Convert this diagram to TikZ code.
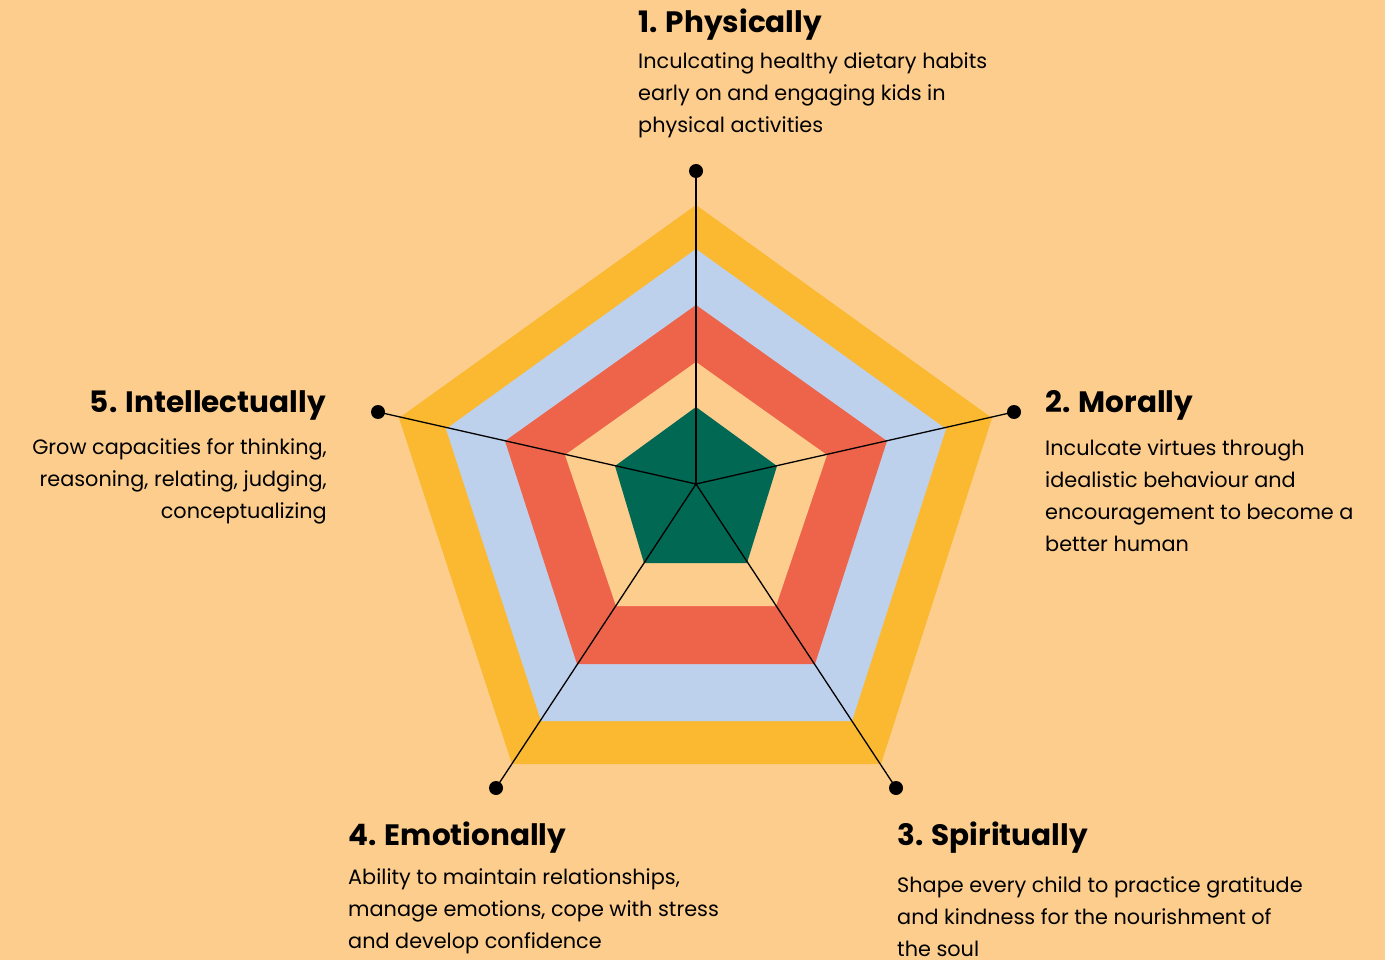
\documentclass[tikz,border=0pt]{standalone}
\usepackage{fontspec}
\setmainfont{Poppins}
\definecolor{bgpeach}{HTML}{FDCD8D}
\definecolor{ringyellow}{HTML}{FAB931}
\definecolor{ringblue}{HTML}{BED1EC}
\definecolor{ringred}{HTML}{EE644A}
\definecolor{ringgreen}{HTML}{006853}
\begin{document}
\begin{tikzpicture}[x=1pt,y=-1pt,
  titletext/.style={inner sep=0pt,font=\fontsize{29.5}{36}\selectfont\bfseries},
  bodytext/.style={inner sep=0pt,font=\fontsize{20.8}{32}\selectfont},
  spoke/.style={line width=1.3pt,black},
  dotnode/.style={circle,fill=black,inner sep=0pt,minimum size=14pt}]
\fill[bgpeach] (0,0) rectangle (1385,960);
\useasboundingbox (0,0) rectangle (1385,960);
% rings
\fill[ringyellow] (696,205) -- (992,418) -- (881,764) -- (512,764) -- (399,418) -- cycle;
\fill[ringblue] (696,249) -- (946,429) -- (852,721) -- (541,721) -- (446,429) -- cycle;
\fill[ringred] (696,305) -- (887,441) -- (815,664) -- (577,664) -- (505,441) -- cycle;
\fill[bgpeach] (696,362) -- (827,455) -- (776,606) -- (616,606) -- (565,455) -- cycle;
\fill[ringgreen] (696,407) -- (777,466) -- (747,563) -- (644,563) -- (615,466) -- cycle;
% spokes
\coordinate (c) at (696,484);
\node[dotnode] (d1) at (696,171) {};
\node[dotnode] (d2) at (1014,412) {};
\node[dotnode] (d3) at (896,788) {};
\node[dotnode] (d4) at (496,788) {};
\node[dotnode] (d5) at (378,412) {};
\foreach \d in {d1,d2,d3,d4,d5} \draw[spoke] (c) -- (\d.center);
% texts
\node[titletext,anchor=base west] (t1) at (638,33) {1. Physically};
\node[bodytext,anchor=north west,align=left] (b1) at (638,48) {\rule{0pt}{20pt}Inculcating healthy dietary habits\\early on and engaging kids in\\physical activities};
\node[titletext,anchor=base west] (t2) at (1045,412) {2. Morally};
\node[bodytext,anchor=north west,align=left] (b2) at (1045,435) {\rule{0pt}{20pt}Inculcate virtues through\\idealistic behaviour and\\encouragement to become a\\better human};
\node[titletext,anchor=base west] (t3) at (897,845) {3. Spiritually};
\node[bodytext,anchor=north west,align=left] (b3) at (897,872) {\rule{0pt}{20pt}Shape every child to practice gratitude\\and kindness for the nourishment of\\the soul};
\node[titletext,anchor=base west] (t4) at (348,845) {4. Emotionally};
\node[bodytext,anchor=north west,align=left] (b4) at (348,864) {\rule{0pt}{20pt}Ability to maintain relationships,\\manage emotions, cope with stress\\and develop confidence};
\node[titletext,anchor=base east] (t5) at (326,412) {5. Intellectually};
\node[bodytext,anchor=north east,align=right] (b5) at (327,434) {\rule{0pt}{20pt}Grow capacities for thinking,\\reasoning, relating, judging,\\conceptualizing};
\end{tikzpicture}
\end{document}
